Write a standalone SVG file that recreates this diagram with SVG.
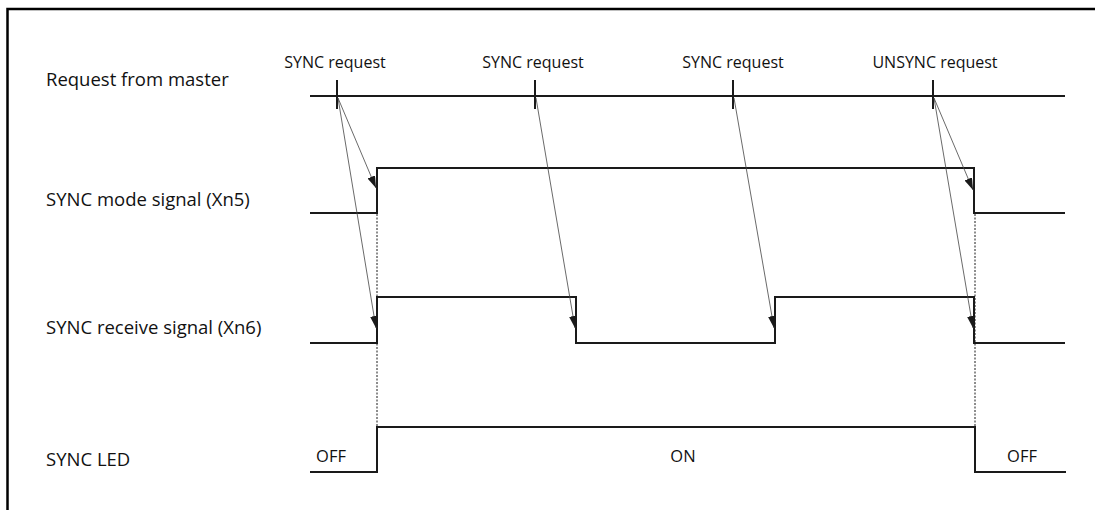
<svg xmlns="http://www.w3.org/2000/svg" width="1095" height="510" viewBox="0 0 1095 510">
<style>
.lbl{font-family:"Open Sans","Liberation Sans",sans-serif;font-size:18.5px;fill:#111}
.sm{font-family:"Open Sans","Liberation Sans",sans-serif;font-size:16px;fill:#111;text-anchor:middle}
.st{font-family:"Open Sans","Liberation Sans",sans-serif;font-size:16.5px;fill:#111;text-anchor:middle}
.sig{fill:none;stroke:#1a1a1a;stroke-width:2}
.tick{stroke:#1a1a1a;stroke-width:2}
.dot{stroke:#1a1a1a;stroke-width:1;stroke-dasharray:2 1.5}
.arr{stroke:#444;stroke-width:0.8;fill:none;marker-end:url(#ah)}
</style>
<defs>
<marker id="ah" viewBox="0 0 12 8" refX="12" refY="4" markerWidth="12" markerHeight="8" markerUnits="userSpaceOnUse" orient="auto">
<path d="M0,0 L12,4 L0,8 Z" fill="#1a1a1a"/>
</marker>
</defs>
<rect width="1095" height="510" fill="#fff"/>
<path d="M7.5,510 V9 H1095" fill="none" stroke="#000" stroke-width="2.5"/>

<g id="labels">
<text class="lbl" x="46" y="86">Request from master</text>
<text class="lbl" x="46" y="206">SYNC mode signal (Xn5)</text>
<text class="lbl" x="46" y="334">SYNC receive signal (Xn6)</text>
<text class="lbl" x="46" y="466">SYNC LED</text>
</g>

<g id="request">
<line class="sig" x1="310" y1="96" x2="1065" y2="96"/>
<line class="tick" x1="337" y1="80" x2="337" y2="109"/>
<line class="tick" x1="535" y1="80" x2="535" y2="109"/>
<line class="tick" x1="733" y1="80" x2="733" y2="109"/>
<line class="tick" x1="933" y1="80" x2="933" y2="109"/>
<text class="sm" x="335" y="68">SYNC request</text>
<text class="sm" x="533" y="68">SYNC request</text>
<text class="sm" x="733" y="68">SYNC request</text>
<text class="sm" x="935" y="68">UNSYNC request</text>
</g>

<g id="mode">
<path class="sig" d="M310,213 H377 V168 H974 V213 H1065"/>
</g>

<g id="receive">
<path class="sig" d="M310,343 H377 V297 H576 V343 H775 V297 H974 V343 H1065"/>
</g>

<g id="led">
<path class="sig" d="M310,472 H377 V427 H975 V472 H1066"/>
<text class="st" x="331" y="462">OFF</text>
<text class="st" x="683" y="462">ON</text>
<text class="st" x="1022" y="462">OFF</text>
</g>

<g id="connectors">
<line class="dot" x1="377" y1="214" x2="377" y2="427"/>
<line class="dot" x1="975" y1="214" x2="975" y2="427"/>
<line class="arr" x1="338" y1="98" x2="376" y2="188"/>
<line class="arr" x1="338" y1="98" x2="376" y2="328"/>
<line class="arr" x1="536" y1="98" x2="575" y2="328"/>
<line class="arr" x1="734" y1="98" x2="774" y2="328"/>
<line class="arr" x1="934" y1="98" x2="973" y2="190"/>
<line class="arr" x1="934" y1="98" x2="973" y2="328"/>
</g>
</svg>
